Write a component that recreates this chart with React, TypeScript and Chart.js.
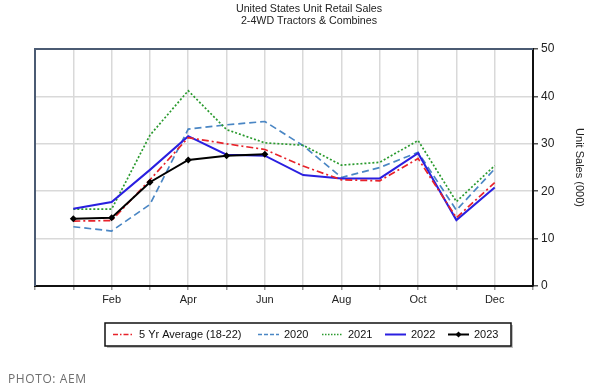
import React, { useEffect, useRef } from "react";
import { Chart, registerables } from "chart.js";

Chart.register(...registerables);

const months = ["Jan", "Feb", "Mar", "Apr", "May", "Jun", "Jul", "Aug", "Sep", "Oct", "Nov", "Dec"];
const avg5 = [13.7, 13.8, 22.4, 31.3, 30.0, 28.8, 25.3, 22.4, 22.2, 26.9, 14.4, 21.8];
const y2020 = [12.5, 11.6, 17.2, 33.1, 34.0, 34.7, 29.6, 22.9, 25.0, 28.2, 16.0, 24.7];
const y2021 = [16.2, 16.2, 31.8, 41.2, 33.0, 30.2, 29.7, 25.5, 26.1, 30.7, 17.8, 25.4];
const y2022 = [16.3, 17.7, 24.5, 31.6, 27.7, 27.5, 23.4, 22.7, 22.7, 28.0, 13.9, 20.8];
const y2023 = [14.2, 14.4, 21.9, 26.6, 27.5, 27.8];

const titleLines = ["United States Unit Retail Sales", "2-4WD Tractors & Combines"];
const yTitle = "Unit Sales (000)";
const FONT = "Arial, 'Liberation Sans', sans-serif";

const pad = (arr: number[]) => {
  const out: (number | null)[] = [null];
  for (let i = 0; i < 12; i++) out.push(i < arr.length ? arr[i] : null);
  out.push(null);
  return out;
};

const legendItems = [
  { label: "5 Yr Average (18-22)", color: "#e8222a", dash: [5, 2, 1.5, 2], width: 1.5, marker: false, x: 113 },
  { label: "2020", color: "#4a86c4", dash: [4, 2], width: 1.5, marker: false, x: 258 },
  { label: "2021", color: "#2a9a2e", dash: [1.5, 1.5], width: 1.5, marker: false, x: 322 },
  { label: "2022", color: "#2a1fe0", dash: [], width: 2, marker: false, x: 385 },
  { label: "2023", color: "#000000", dash: [], width: 2, marker: true, x: 448 },
];

const decorPlugin = {
  id: "decor",
  afterDraw(chart: any) {
    const ctx = chart.ctx;
    const a = chart.chartArea;
    ctx.save();
    // left & top border
    ctx.strokeStyle = "#4b5b73";
    ctx.lineWidth = 2;
    ctx.setLineDash([]);
    ctx.beginPath();
    ctx.moveTo(a.left, a.bottom);
    ctx.lineTo(a.left, a.top);
    ctx.lineTo(a.right, a.top);
    ctx.stroke();
    // title
    ctx.fillStyle = "#222";
    ctx.font = `10.7px ${FONT}`;
    ctx.textAlign = "center";
    ctx.textBaseline = "middle";
    ctx.fillText(titleLines[0], 309, 9);
    ctx.fillText(titleLines[1], 309, 21);
    // legend box
    const bx = 105, by = 323, bw = 406, bh = 23;
    ctx.fillStyle = "rgba(0,0,0,0.25)";
    ctx.fillRect(bx + 2, by + 2, bw, bh);
    ctx.fillStyle = "#fff";
    ctx.fillRect(bx, by, bw, bh);
    ctx.strokeStyle = "#111";
    ctx.lineWidth = 1.5;
    ctx.strokeRect(bx, by, bw, bh);
    const cy = by + bh / 2;
    ctx.textAlign = "left";
    ctx.font = `11px ${FONT}`;
    for (const it of legendItems) {
      ctx.strokeStyle = it.color;
      ctx.lineWidth = it.width;
      ctx.setLineDash(it.dash);
      ctx.beginPath();
      ctx.moveTo(it.x, cy);
      ctx.lineTo(it.x + 21, cy);
      ctx.stroke();
      ctx.setLineDash([]);
      if (it.marker) {
        ctx.fillStyle = it.color;
        ctx.beginPath();
        ctx.moveTo(it.x + 10.5, cy - 3);
        ctx.lineTo(it.x + 13.5, cy);
        ctx.lineTo(it.x + 10.5, cy + 3);
        ctx.lineTo(it.x + 7.5, cy);
        ctx.closePath();
        ctx.fill();
      }
      ctx.fillStyle = "#111";
      ctx.fillText(it.label, it.x + 26, cy + 0.5);
    }
    ctx.restore();
  },
};

export default function App() {
  const ref = useRef<HTMLCanvasElement | null>(null);
  useEffect(() => {
    if (!ref.current) return;
    const labels = ["", ...months, ""];
    const chart = new Chart(ref.current, {
      type: "line",
      data: {
        labels,
        datasets: [
          {
            label: "2023",
            data: pad(y2023),
            borderColor: "#000",
            backgroundColor: "#000",
            borderWidth: 2,
            pointStyle: "rectRot",
            pointRadius: 3.5,
            pointBorderWidth: 0,
            order: 0,
          },
          {
            label: "2022",
            data: pad(y2022),
            borderColor: "#2a1fe0",
            borderWidth: 2,
            pointRadius: 0,
            order: 2,
          },
          {
            label: "5 Yr Average (18-22)",
            data: pad(avg5),
            borderColor: "#e8222a",
            borderWidth: 1.7,
            borderDash: [7, 3, 2, 3],
            pointRadius: 0,
            order: 1,
          },
          {
            label: "2021",
            data: pad(y2021),
            borderColor: "#2a9a2e",
            borderWidth: 1.7,
            borderDash: [2, 2],
            pointRadius: 0,
            order: 3,
          },
          {
            label: "2020",
            data: pad(y2020),
            borderColor: "#4a86c4",
            borderWidth: 1.7,
            borderDash: [7, 4],
            pointRadius: 0,
            order: 4,
          },
        ],
      },
      options: {
        responsive: false,
        animation: false,
        layout: { padding: { left: 35, top: 49, right: 0, bottom: 0 } },
        plugins: {
          legend: { display: false },
          title: { display: false },
          tooltip: { enabled: false },
        },
        scales: {
          x: {
            type: "category",
            offset: false,
            afterFit: (s: any) => {
              s.height = 101;
            },
            grid: {
              color: "#d9d9d9",
              lineWidth: 1.5,
              tickColor: "#999",
              tickLength: 4,
            },
            border: { display: true, color: "#111", width: 2 },
            ticks: {
              autoSkip: false,
              maxRotation: 0,
              padding: 3,
              color: "#222",
              font: { family: FONT, size: 11 },
              callback: (_v: any, i: number) => (i >= 2 && i <= 12 && i % 2 === 0 ? labels[i] : ""),
            },
          },
          y: {
            position: "right",
            min: 0,
            max: 50,
            afterFit: (s: any) => {
              s.width = 57;
            },
            grid: {
              color: "#d9d9d9",
              lineWidth: 1.5,
              tickColor: "#555",
              tickLength: 5,
            },
            border: { display: true, color: "#111", width: 2 },
            ticks: {
              stepSize: 10,
              padding: 3,
              color: "#222",
              font: { family: FONT, size: 12 },
            },
            title: {
              display: true,
              text: yTitle,
              color: "#222",
              font: { family: FONT, size: 11 },
              padding: { top: 4, bottom: 11 },
            },
          },
        },
      },
      plugins: [decorPlugin],
    } as any);
    return () => chart.destroy();
  }, []);
  return (
    <div style={{ position: "absolute", left: 0, top: 0, width: 590, height: 387, background: "#fff" }}>
      <canvas ref={ref} width={590} height={387} style={{ display: "block" }} />
      <div
        style={{
          position: "absolute",
          left: 8,
          top: 370,
          fontFamily: "'Open Sans', Arial, sans-serif",
          fontSize: 12,
          letterSpacing: 0.6,
          color: "#6e6e6e",
        }}
      >
        PHOTO: AEM
      </div>
    </div>
  );
}
